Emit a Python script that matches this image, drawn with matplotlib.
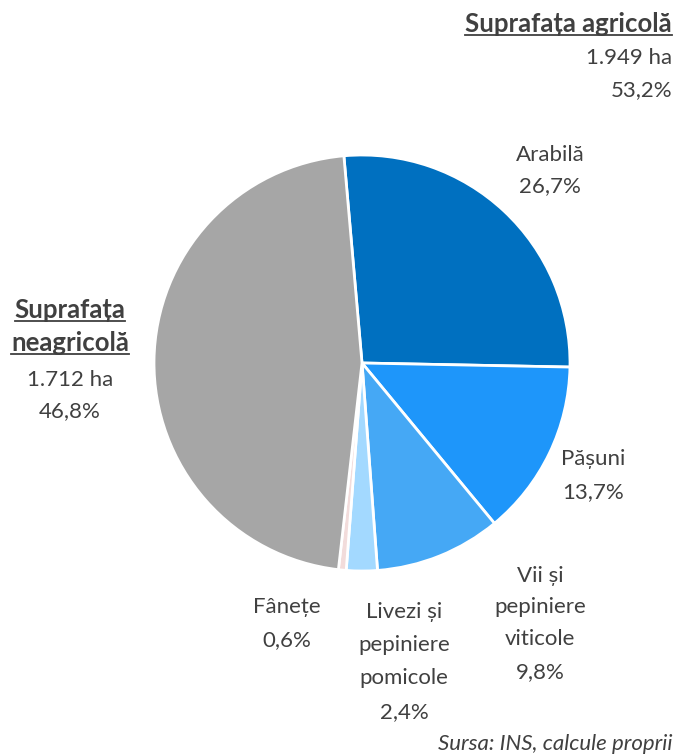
import matplotlib
matplotlib.use("Agg")
import matplotlib.pyplot as plt
from matplotlib.lines import Line2D

# ---- data ----
categories = ["Arabilă", "Pășuni", "Vii și pepiniere viticole",
              "Livezi și pepiniere pomicole", "Fânețe", "Suprafața neagricolă"]
values = [26.7, 13.7, 9.8, 2.4, 0.6, 46.8]
colors = ["#0070C0", "#1E96FA", "#45A8F5", "#A3D9FF", "#F2DCDB", "#A6A6A6"]
agri_total_ha = "1.949 ha"
agri_pct = "53,2%"
nonagri_total_ha = "1.712 ha"
source = "Sursa: INS, calcule proprii"

W, H = 674, 756
fig = plt.figure(figsize=(W / 100, H / 100), dpi=100)
FAM = ["Lato", "DejaVu Sans"]
TXT = "#404040"

cx, cy, r = 362, 363, 208
ax = fig.add_axes([(cx - r) / W, (H - cy - r) / H, 2 * r / W, 2 * r / H])
ax.pie(values, colors=colors, startangle=95, counterclock=False,
       wedgeprops=dict(edgecolor="white", linewidth=2))
ax.set_xlim(-1, 1)
ax.set_ylim(-1, 1)
ax.set_aspect("equal")
ax.axis("off")


def put(x, y, s, ha="center", bold=False, underline=False, italic=False, size=16):
    if bold:
        size = 18.5
    t = fig.text(x / W, 1 - y / H, s, ha=ha, va="center", color=TXT,
                 fontsize=size, family=FAM,
                 fontweight="bold" if bold else "normal",
                 fontstyle="italic" if italic else "normal")
    if underline:
        fig.canvas.draw()
        bb = t.get_window_extent()
        yy = bb.y0 + 1
        fig.add_artist(Line2D([bb.x0 / W, bb.x1 / W], [yy / H, yy / H],
                              transform=fig.transFigure, color=TXT, lw=1.3))
    return t


def pct(v):
    return f"{v:.1f}%".replace(".", ",")


# top-right agricultural summary
put(672, 24, "Suprafața agricolă", ha="right", bold=True, underline=True)
put(672, 58, agri_total_ha, ha="right")
put(672, 90, agri_pct, ha="right")

# left non-agricultural
put(70, 310, "Suprafața", bold=True, underline=True)
put(70, 343, "neagricolă", bold=True, underline=True)
put(70, 380, nonagri_total_ha)
put(70, 411, pct(values[5]))

# Arabilă
put(550, 155, "Arabilă")
put(550, 186, pct(values[0]))

# Pășuni
put(593, 459, "Pășuni")
put(593, 492, pct(values[1]))

# Vii
put(540, 576, "Vii și")
put(540, 607, "pepiniere")
put(540, 639, "viticole")
put(540, 672, pct(values[2]))

# Fânețe
put(287, 607, "Fânețe")
put(287, 640, pct(values[4]))

# Livezi
put(404, 612, "Livezi și")
put(404, 645, "pepiniere")
put(404, 678, "pomicole")
put(404, 712, pct(values[3]))

put(672, 744, source, ha="right", italic=True)

fig.savefig("out.png", dpi=100)
